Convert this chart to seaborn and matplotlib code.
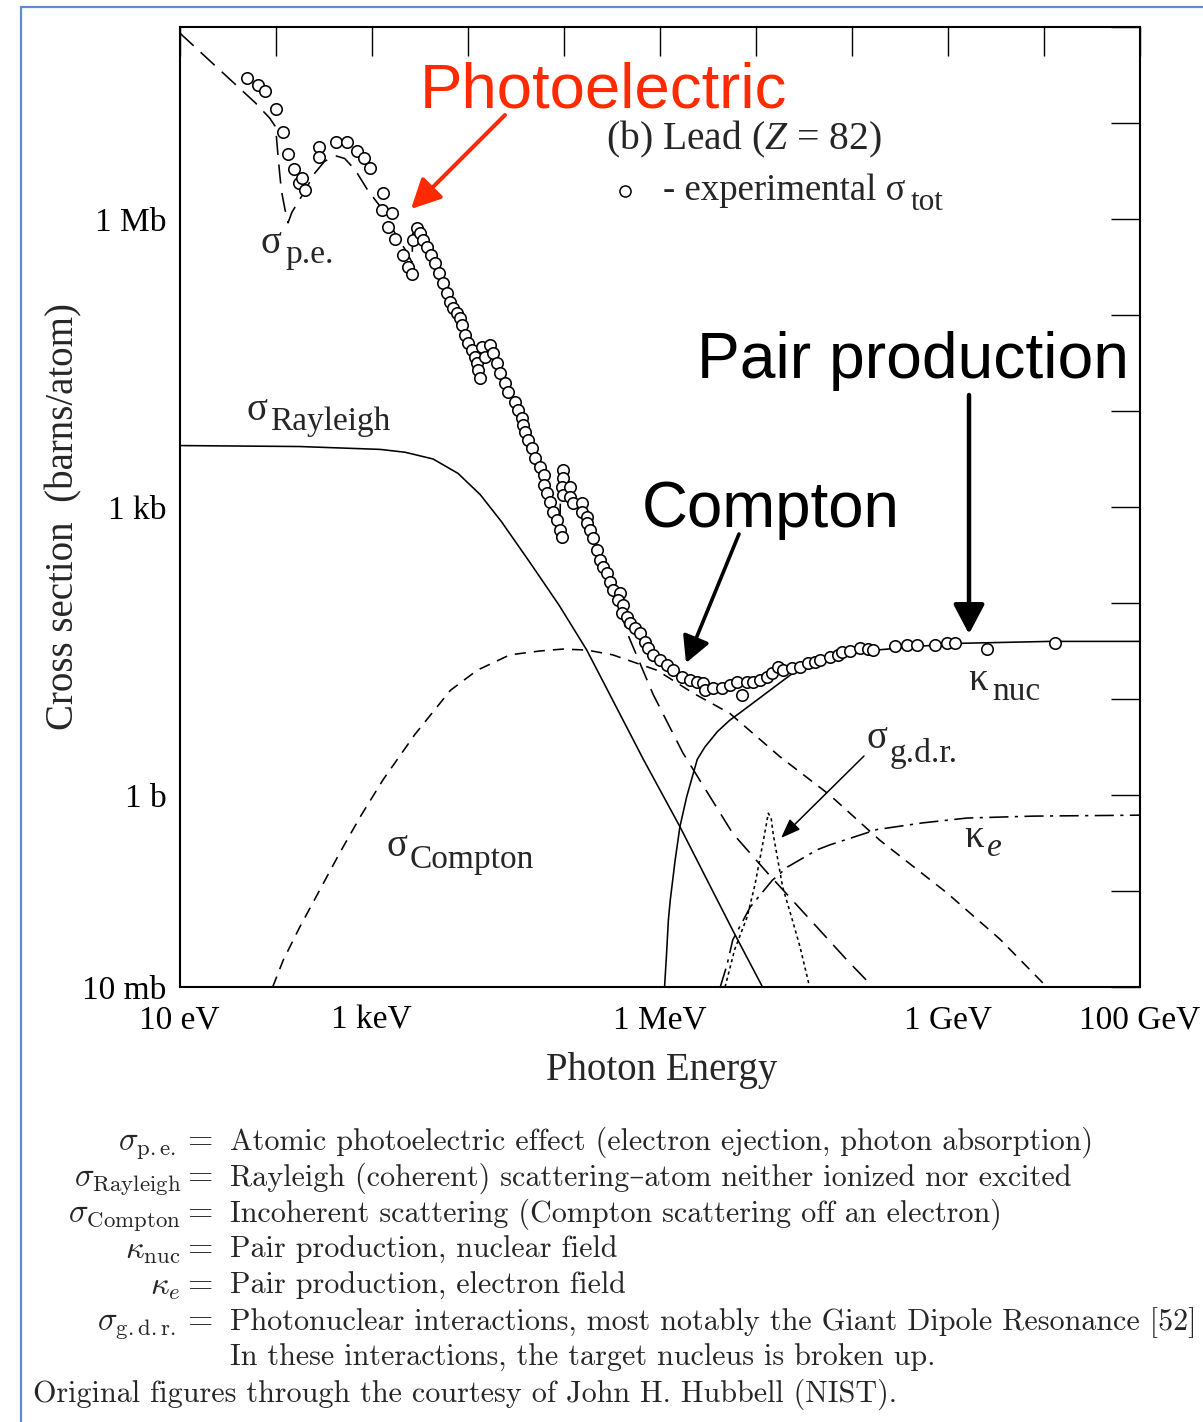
import numpy as np
import pandas as pd
import matplotlib
matplotlib.use("Agg")
import matplotlib.pyplot as plt
import seaborn as sns
from matplotlib.lines import Line2D
from matplotlib.ticker import FixedLocator, FixedFormatter, NullLocator

# ---------------- data: log10(photon energy / eV), log10(cross section / barn) ----------------
exp_logE = [1.70, 1.82, 1.89, 2.00, 2.08, 2.13, 2.19, 2.24, 2.28, 2.31,
            2.45, 2.45, 2.63, 2.74, 2.85, 2.92, 2.98, 3.12, 3.11, 3.21,
            3.17, 3.24, 3.33, 3.38, 3.42, 3.43, 3.47, 3.50, 3.54, 3.58,
            3.62, 3.66, 3.70, 3.74, 3.79, 3.82, 3.85, 3.89, 3.92, 3.94,
            3.97, 4.00, 4.05, 4.08, 4.10, 4.11, 4.13, 4.15, 4.18, 4.23,
            4.26, 4.31, 4.34, 4.39, 4.42, 4.49, 4.52, 4.57, 4.58, 4.60,
            4.63, 4.67, 4.70, 4.75, 4.79, 4.79, 4.83, 4.86, 4.89, 4.93,
            4.96, 4.98, 4.99, 4.99, 4.98, 4.99, 5.07, 5.07, 5.10, 5.19,
            5.19, 5.24, 5.24, 5.27, 5.31, 5.35, 5.38, 5.41, 5.45, 5.48,
            5.51, 5.59, 5.57, 5.62, 5.61, 5.66, 5.69, 5.74, 5.79, 5.85,
            5.88, 5.93, 6.00, 6.08, 6.14, 6.23, 6.32, 6.39, 6.45, 6.47,
            6.55, 6.65, 6.73, 6.80, 6.86, 6.91, 6.97, 7.04, 7.12, 7.17,
            7.23, 7.28, 7.38, 7.46, 7.54, 7.62, 7.67, 7.77, 7.86, 7.90,
            7.98, 8.09, 8.17, 8.22, 8.45, 8.57, 8.68, 8.87, 8.99, 9.07,
            9.41, 10.12]
exp_logS = [7.47, 7.40, 7.33, 7.15, 6.91, 6.68, 6.52, 6.38, 6.43, 6.30,
            6.75, 6.65, 6.80, 6.80, 6.71, 6.64, 6.53, 6.27, 6.09, 6.06,
            5.92, 5.79, 5.63, 5.50, 5.43, 5.78, 5.91, 5.85, 5.78, 5.71,
            5.63, 5.54, 5.44, 5.33, 5.23, 5.14, 5.07, 5.02, 4.97, 4.90,
            4.79, 4.71, 4.64, 4.56, 4.50, 4.43, 4.34, 4.67, 4.56, 4.69,
            4.60, 4.50, 4.40, 4.29, 4.20, 4.09, 4.01, 3.93, 3.85, 3.78,
            3.70, 3.61, 3.51, 3.42, 3.33, 3.23, 3.15, 3.05, 2.95, 2.86,
            2.76, 2.69, 3.39, 3.30, 3.21, 3.13, 3.21, 3.10, 3.04, 3.04,
            2.95, 2.90, 2.83, 2.76, 2.68, 2.55, 2.45, 2.38, 2.31, 2.22,
            2.14, 2.10, 2.03, 1.98, 1.90, 1.85, 1.79, 1.74, 1.69, 1.59,
            1.53, 1.46, 1.41, 1.35, 1.30, 1.23, 1.20, 1.18, 1.17, 1.09,
            1.11, 1.11, 1.15, 1.18, 1.04, 1.18, 1.18, 1.20, 1.23, 1.27,
            1.33, 1.30, 1.32, 1.33, 1.38, 1.39, 1.41, 1.44, 1.46, 1.49,
            1.50, 1.53, 1.52, 1.51, 1.55, 1.56, 1.56, 1.56, 1.58, 1.58,
            1.52, 1.58]

pe_logE = [1.00, 1.53, 1.79, 1.94, 2.00, 2.03, 2.06, 2.10, 2.13, 2.17,
           2.28, 2.41, 2.51, 2.62, 2.72, 2.83, 2.96, 3.09, 3.24, 3.35,
           3.42, 3.43, 3.61, 3.79, 3.94, 4.05, 4.11, 4.12, 4.18, 4.19,
           4.26, 4.34, 4.44, 4.57, 4.67, 4.79, 4.89, 4.96, 4.97, 5.07,
           5.19, 5.31, 5.45, 5.55, 5.66, 5.93, 6.24, 6.76, 7.12, 7.64,
           7.95, 8.22]
pe_logS = [7.94, 7.45, 7.21, 7.05, 6.96, 6.61, 6.30, 6.09, 5.96, 6.07,
           6.25, 6.48, 6.60, 6.66, 6.63, 6.51, 6.30, 6.13, 5.86, 5.68,
           5.55, 5.87, 5.63, 5.24, 4.89, 4.61, 4.40, 4.64, 4.53, 4.66,
           4.58, 4.40, 4.18, 3.92, 3.62, 3.30, 2.95, 2.75, 3.37, 3.18,
           2.99, 2.70, 2.32, 2.06, 1.69, 1.05, 0.44, -0.40, -0.81, -1.38,
           -1.72, -2.00]

rayleigh_logE = [1.00, 2.25, 3.09, 3.35, 3.64, 3.90, 4.13, 4.35, 4.65, 4.95,
                 5.24, 5.53, 5.83, 6.21, 6.76, 7.07]
rayleigh_logS = [3.64, 3.63, 3.60, 3.57, 3.50, 3.35, 3.13, 2.85, 2.42, 1.98,
                 1.51, 0.95, 0.37, -0.33, -1.41, -2.00]

compton_logE = [1.97, 2.08, 2.25, 2.46, 2.67, 2.88, 3.12, 3.45, 3.82, 4.10,
                4.44, 4.75, 4.99, 5.24, 5.51, 5.97, 6.35, 6.73, 7.25, 7.77,
                8.29, 8.99, 9.54, 10.03]
compton_logS = [-2.00, -1.72, -1.38, -0.99, -0.60, -0.23, 0.16, 0.63, 1.09, 1.30,
                1.46, 1.50, 1.52, 1.51, 1.46, 1.30, 1.06, 0.85, 0.40, 0.00,
                -0.47, -1.02, -1.50, -2.00]

knuc_logE = [6.05, 6.07, 6.09, 6.11, 6.16, 6.21, 6.28, 6.39, 6.47, 6.60,
             6.73, 6.84, 7.04, 7.36, 7.64, 7.98, 8.26, 8.71, 9.13, 10.06, 11.00]
knuc_logS = [-2.00, -1.67, -1.30, -1.09, -0.68, -0.33, -0.02, 0.37, 0.50, 0.66,
             0.78, 0.86, 1.01, 1.25, 1.41, 1.47, 1.51, 1.55, 1.58, 1.60, 1.60]

ke_logE = [6.63, 6.70, 6.76, 6.94, 7.17, 7.33, 7.64, 7.77, 8.26, 8.74,
           9.20, 9.89, 11.00]
ke_logS = [-2.00, -1.77, -1.51, -1.17, -0.89, -0.75, -0.57, -0.52, -0.36, -0.29,
           -0.24, -0.22, -0.21]

gdr_logE = [6.68, 6.78, 6.91, 6.99, 7.04, 7.10, 7.13, 7.16, 7.18, 7.23,
            7.28, 7.38, 7.46, 7.56]
gdr_logS = [-2.00, -1.61, -1.27, -0.94, -0.68, -0.36, -0.19, -0.24, -0.40, -0.68,
            -0.96, -1.30, -1.58, -2.00]

x_tick_exp = [1, 2, 3, 4, 5, 6, 7, 8, 9, 10, 11]
x_tick_text = ["10 eV", "", "1 keV", "", "", "1 MeV", "", "", "1 GeV", "", "100 GeV"]
y_tick_exp = [-2, -1, 0, 1, 2, 3, 4, 5, 6, 7, 8]
y_tick_text = ["10 mb", "", "1 b", "", "", "1 kb", "", "", "1 Mb", "", ""]

legend_rows = [
    (r"$\sigma_{\mathrm{p.e.}} =$", "Atomic photoelectric effect (electron ejection, photon absorption)"),
    (r"$\sigma_{\mathrm{Rayleigh}} =$", "Rayleigh (coherent) scattering\u2013atom neither ionized nor excited"),
    (r"$\sigma_{\mathrm{Compton}} =$", "Incoherent scattering (Compton scattering off an electron)"),
    (r"$\kappa_{\mathrm{nuc}} =$", "Pair production, nuclear field"),
    (r"$\kappa_e =$", "Pair production, electron field"),
    (r"$\sigma_{\mathrm{g.d.r.}} =$", "Photonuclear interactions, most notably the Giant Dipole Resonance [52]"),
    ("", "In these interactions, the target nucleus is broken up."),
]
credit = "Original figures through the courtesy of John H. Hubbell (NIST)."

# ---------------- style ----------------
W, H = 1203, 1422
sns.set_theme(style="white")
SERIF = ["Liberation Serif", "DejaVu Serif"]
SANS = ["Liberation Sans", "DejaVu Sans"]
CM = ["cmr10", "DejaVu Serif"]
plt.rcParams["font.family"] = SERIF
plt.rcParams["mathtext.fontset"] = "custom"
plt.rcParams["mathtext.rm"] = "Liberation Serif"
plt.rcParams["mathtext.it"] = "Liberation Serif:italic"
plt.rcParams["mathtext.bf"] = "Liberation Serif:bold"

fig = plt.figure(figsize=(W / 100, H / 100), dpi=100)
ax = fig.add_axes([179.5 / W, 1 - 987 / H, 960.5 / W, 960 / H])


def fp(x, y):
    return x / W, 1 - y / H


def frame(logE, logS):
    return pd.DataFrame({"E": np.power(10.0, logE), "S": np.power(10.0, logS)})


def curve(logE, logS, ls, lw=1.15):
    sns.lineplot(data=frame(logE, logS), x="E", y="S", ax=ax, color="black",
                 lw=lw, linestyle=ls, estimator=None, sort=False, legend=False,
                 zorder=2)


curve(pe_logE, pe_logS, (0, (12, 6)))
curve(rayleigh_logE, rayleigh_logS, "-")
curve(compton_logE, compton_logS, (0, (7, 5)))
curve(knuc_logE, knuc_logS, "-")
curve(ke_logE, ke_logS, (0, (12, 4, 2, 4)))
curve(gdr_logE, gdr_logS, (0, (2, 2)))

sns.scatterplot(data=frame(exp_logE, exp_logS), x="E", y="S", ax=ax,
                marker="o", s=68, color="white", edgecolor="black",
                linewidth=1.15, zorder=3, legend=False)

ax.set_xscale("log")
ax.set_yscale("log")
ax.set_xlim(1e1, 1e11)
ax.set_ylim(1e-2, 1e8)
ax.xaxis.set_major_locator(FixedLocator([10.0 ** k for k in x_tick_exp]))
ax.xaxis.set_major_formatter(FixedFormatter(x_tick_text))
ax.yaxis.set_major_locator(FixedLocator([10.0 ** k for k in y_tick_exp]))
ax.yaxis.set_major_formatter(FixedFormatter(y_tick_text))
ax.xaxis.set_minor_locator(NullLocator())
ax.yaxis.set_minor_locator(NullLocator())
ax.tick_params(which="major", direction="in", length=21, width=1.0, color="black",
               top=True, right=True, labelsize=24, labelcolor="black")
ax.tick_params(axis="x", pad=13)
ax.tick_params(axis="y", pad=9.5)
for lab in ax.get_xticklabels() + ax.get_yticklabels():
    lab.set_fontfamily(SERIF)
for sp in ax.spines.values():
    sp.set_linewidth(1.5)
    sp.set_color("black")
ax.set_xlabel("")
ax.set_ylabel("")

# axis titles
fig.text(*fp(662, 1080), "Photon Energy", ha="center", va="baseline", fontsize=28)
fig.text(*fp(64, 517), "Cross section  (barns/atom)", rotation=90,
         ha="center", va="center", fontsize=28)


# curve labels
def sublabel(x, y, main, xs, ys, sub, sub_style="normal"):
    fig.text(*fp(x, y), main, fontsize=28, va="baseline", ha="left")
    fig.text(*fp(xs, ys), sub, fontsize=24, va="baseline", ha="left", style=sub_style)


sublabel(261, 253, "\u03c3", 285, 263, "p.e.")
sublabel(246, 420, "\u03c3", 270, 430, "Rayleigh")
sublabel(386, 856, "\u03c3", 410, 868, "Compton")
sublabel(968, 690, "\u03ba", 992, 700, "nuc")
sublabel(866, 748, "\u03c3", 890, 762, "g.d.r.")
sublabel(964, 847, "\u03ba", 987, 856, "e", sub_style="italic")

fig.text(*fp(606, 149), "(b) Lead ($Z$ = 82)", fontsize=28.5, va="baseline")
fig.add_artist(Line2D([625 / W], [1 - 191 / H], marker="o", ms=8, mfc="white",
                      mec="black", mew=1.1, transform=fig.transFigure))
fig.text(*fp(663, 200), "- experimental \u03c3", fontsize=26.5, va="baseline")
fig.text(*fp(911, 210), "tot", fontsize=22.5, va="baseline")

# big annotations
fig.text(*fp(420, 107), "Photoelectric", color="#ff2a00", fontsize=45.7,
         family=SANS, va="baseline")
fig.text(*fp(697, 378), "Pair production", color="black", fontsize=46.2,
         family=SANS, va="baseline")
fig.text(*fp(642, 527), "Compton", color="black", fontsize=45.8,
         family=SANS, va="baseline")


def arrow(tail, tip, color, lw, hl, hw):
    ax.annotate("", xy=fp(*tip), xytext=fp(*tail), xycoords="figure fraction",
                textcoords="figure fraction", annotation_clip=False,
                arrowprops=dict(arrowstyle=f"-|>,head_length={hl},head_width={hw}",
                                mutation_scale=1, lw=lw, color=color,
                                shrinkA=0, shrinkB=0))


arrow((505, 115), (411, 209), "#ff2a00", 2.9, 18, 9)
arrow((969, 395), (969, 634), "black", 3.2, 18, 9.5)
arrow((739, 534), (686, 663), "black", 2.6, 16, 8.5)
arrow((864, 756), (781, 838), "black", 1.1, 12, 4.5)

# blue page frame
blue = "#5b8dcf"
fig.add_artist(Line2D([20.5 / W, 1.0], [1 - 7 / H, 1 - 7 / H], color=blue, lw=1.6,
                      transform=fig.transFigure))
fig.add_artist(Line2D([20.5 / W, 20.5 / W], [1 - 7 / H, 0.0], color=blue, lw=1.6,
                      transform=fig.transFigure))

# explanation block
for i, (lhs, rhs) in enumerate(legend_rows):
    yb = 1150 + 36 * i
    if lhs:
        fig.text(*fp(213, yb), lhs, ha="right", va="baseline", fontsize=23.5,
                 math_fontfamily="cm")
    fig.text(*fp(230, yb), rhs, ha="left", va="baseline", fontsize=21.7, family=CM)
fig.text(*fp(33, 1150 + 36 * 7), credit, ha="left", va="baseline", fontsize=21.7,
         family=CM)

fig.savefig("out.png", dpi=100)
